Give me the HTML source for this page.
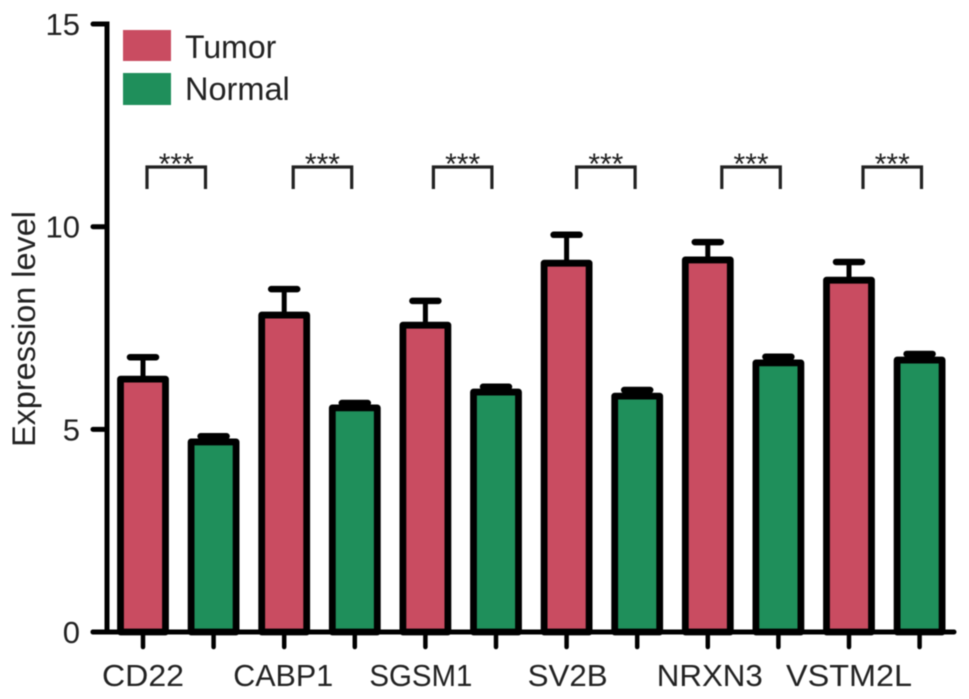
<!DOCTYPE html>
<html lang="en">
<head>
<meta charset="utf-8">
<title>Expression level by gene</title>
<style>
html,body{margin:0;padding:0;background:#fff;}
svg{display:block;filter:blur(0.6px);}
text{font-family:"Liberation Sans",Arial,sans-serif;fill:#222;}
</style>
</head>
<body>
<svg id="chart" xmlns="http://www.w3.org/2000/svg" width="969" height="699" viewBox="0 0 969 699">
  <rect x="0" y="0" width="969" height="699" fill="#ffffff"/>
  <g id="bars"></g>
  <g id="brackets"></g>
  <g id="axes"></g>
  <text transform="translate(35,329) rotate(-90)" text-anchor="middle" font-size="32.4">Expression level</text>
  <g>
    <rect x="123" y="30" width="48" height="31" fill="#c94c61"/>
    <text x="185" y="58" font-size="32">Tumor</text>
    <rect x="123" y="73" width="48" height="32" fill="#1f8f5b"/>
    <text x="185" y="100" font-size="32.5">Normal</text>
  </g>
</svg>
<script>
const categories = ["CD22", "CABP1", "SGSM1", "SV2B", "NRXN3", "VSTM2L"];
const tumorValues = [6.24, 7.82, 7.57, 9.10, 9.18, 8.68];
const tumorErrors = [0.54, 0.64, 0.60, 0.70, 0.44, 0.45];
const normalValues = [4.69, 5.53, 5.92, 5.82, 6.64, 6.71];
const normalErrors = [0.14, 0.12, 0.13, 0.15, 0.15, 0.15];
const yTickValues = [0, 5, 10, 15];
const significanceLabels = ["***", "***", "***", "***", "***", "***"];
const bracketLevel = 10.93;

const NS = "http://www.w3.org/2000/svg";
function yScale(v) { return 632 - v * 40.53; }
function xScale(groupIndex, seriesIndex) { return 143 + 70.6 * (2 * groupIndex + seriesIndex); }

function make(parent, tag, attrs, text) {
  const el = document.createElementNS(NS, tag);
  for (const k in attrs) el.setAttribute(k, attrs[k]);
  if (text !== undefined) el.textContent = text;
  parent.appendChild(el);
  return el;
}

function drawBar(parent, groupIndex, seriesIndex, value, error, color, key) {
  const cx = xScale(groupIndex, seriesIndex);
  const top = yScale(value);
  const capY = yScale(value + error);
  const stem = make(parent, "line", {x1: cx, x2: cx, y1: top, y2: capY, stroke: "#000", "stroke-width": 5});
  
  
  const cap = make(parent, "line", {x1: cx - 13, x2: cx + 13, y1: capY, y2: capY, stroke: "#000", "stroke-width": 6.5, "stroke-linecap": "round"});
  
  
  const bar = make(parent, "rect", {x: cx - 22.5, y: top, width: 45, height: yScale(0) - top, fill: color, stroke: "#000", "stroke-width": 6.8, "stroke-linejoin": "round"});
  
  
}

function drawBars() {
  const g = document.getElementById("bars");
  categories.forEach(function (name, i) {
    const key = name.toLowerCase();
    drawBar(g, i, 0, tumorValues[i], tumorErrors[i], "#c94c61", key + '-tumor');
    drawBar(g, i, 1, normalValues[i], normalErrors[i], "#1f8f5b", key + '-normal');
  });
}

function drawBrackets() {
  const g = document.getElementById("brackets");
  const nudge = [4, 9, 8, 10, 14, 14];
  categories.forEach(function (name, i) {
    const key = name.toLowerCase();
    const left = xScale(i, 0) + nudge[i];
    const right = left + 58.5;
    const base = yScale(bracketLevel);
    const top = base - 22;
    const path = make(g, "path", {d: "M" + left + " " + base + "V" + top + "H" + right + "V" + base, fill: "none", stroke: "#222", "stroke-width": 3.2});
    
    
    const stars = make(g, "text", {x: (left + right) / 2, y: top + 7, "text-anchor": "middle", "font-size": 30}, significanceLabels[i]);
    
    
  });
}

function drawAxes() {
  const g = document.getElementById("axes");
  const yLine = make(g, "line", {x1: 107, x2: 107, y1: yScale(15) - 2.5, y2: yScale(0), stroke: "#000", "stroke-width": 5});
  
  
  const xLine = make(g, "line", {x1: 93, x2: 954, y1: yScale(0), y2: yScale(0), stroke: "#000", "stroke-width": 5, "stroke-linecap": "round"});
  
  

  yTickValues.forEach(function (v) {
    const y = yScale(v);
    const tick = make(g, "line", {x1: 93, x2: 107, y1: y, y2: y, stroke: "#000", "stroke-width": 5, "stroke-linecap": "round"});
    
    
    const label = make(g, "text", {x: 80, y: y + 11, "text-anchor": "end", "font-size": 31}, String(v));
    
    
  });

  const labelNudge = [0, -1, -4.5, 1, 2, 0];
  const labelWidth = [82, 100, 103, 80, 106, 126];
  categories.forEach(function (name, i) {
    const key = name.toLowerCase();
    [0, 1].forEach(function (s) {
      const x = xScale(i, s);
      const tick = make(g, "line", {x1: x, x2: x, y1: yScale(0), y2: 647, stroke: "#000", "stroke-width": 4.5, "stroke-linecap": "round"});
      
      
    });
    const label = make(g, "text", {x: xScale(i, 0) + labelNudge[i], y: 686, "text-anchor": "middle", "font-size": 31, textLength: labelWidth[i], lengthAdjust: "spacingAndGlyphs"}, name);
    
    
  });
}

drawBars();
drawBrackets();
drawAxes();
</script>
</body>
</html>
